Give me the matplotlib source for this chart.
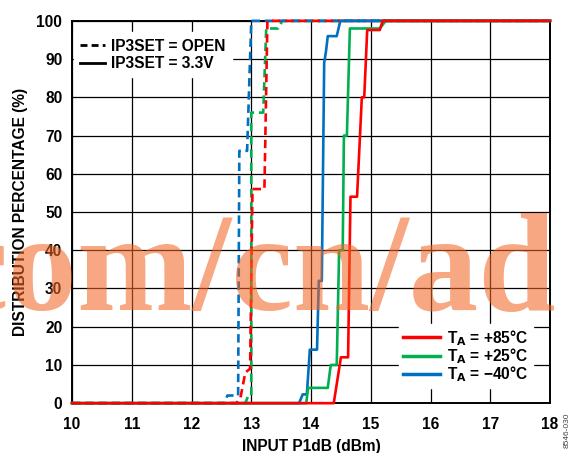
import matplotlib
matplotlib.use("Agg")
import matplotlib.pyplot as plt
from matplotlib.lines import Line2D

plt.rcParams['font.family'] = ['Liberation Sans', 'DejaVu Sans']
plt.rcParams['font.weight'] = 'bold'
plt.rcParams['mathtext.default'] = 'bf'

# IP3SET = OPEN (dashed)
open_m40_x = [10.0, 12.55, 12.6, 12.78, 12.8, 12.93, 13.0, 18.0]
open_m40_y = [0, 0, 2, 2, 66, 66, 100, 100]
open_p25_x = [10.0, 12.9, 12.95, 13.0, 13.0, 13.2, 13.25, 13.45, 13.52, 18.0]
open_p25_y = [0, 0, 2, 2, 76, 76, 98, 98, 100, 100]
open_p85_x = [10.0, 12.75, 12.82, 12.9, 12.98, 13.02, 13.22, 13.27, 18.0]
open_p85_y = [0, 0, 1.5, 8, 9, 56, 56, 100, 100]

# IP3SET = 3.3V (solid)
v33_m40_x = [10.0, 13.8, 13.86, 13.93, 13.98, 14.1, 14.13, 14.18, 14.22, 14.25, 14.28, 14.33, 14.43, 14.49, 18.0]
v33_m40_y = [0, 0, 2.3, 2.3, 14, 14, 32, 32, 89, 92, 96, 96, 96, 100, 100]
v33_p25_x = [10.0, 13.92, 13.95, 14.28, 14.33, 14.43, 14.47, 14.53, 14.55, 14.6, 14.65, 15.15, 15.25, 18.0]
v33_p25_y = [0, 0, 4, 4, 10, 10, 40, 40, 70, 70, 98, 98, 100, 100]
v33_p85_x = [10.0, 14.38, 14.45, 14.5, 14.62, 14.66, 14.77, 14.85, 14.89, 14.94, 15.15, 15.2, 18.0]
v33_p85_y = [0, 0, 7, 12, 12, 54, 54, 80, 80, 97.6, 97.6, 100, 100]

temp_labels = ['T$_{A}$ = +85°C', 'T$_{A}$ = +25°C', 'T$_{A}$ = \u221240°C']
red = '#ff0000'
green = '#00b050'
blue = '#0070c0'
fs = 11.2

fig = plt.figure(figsize=(5.76, 4.53), dpi=100)
ax = fig.add_axes([0.125, 0.110, 0.830, 0.844])

dash = (0, (3.2, 1.8))
lw = 1.9
ax.plot(open_p25_x, open_p25_y, color=green, lw=lw, linestyle=dash, zorder=3, clip_on=False)
ax.plot(open_m40_x, open_m40_y, color=blue, lw=lw, linestyle=dash, zorder=3, clip_on=False)
ax.plot(open_p85_x, open_p85_y, color=red, lw=lw, linestyle=dash, zorder=3, clip_on=False)
ax.plot(v33_m40_x, v33_m40_y, color=blue, lw=lw, zorder=3, clip_on=False)
ax.plot(v33_p25_x, v33_p25_y, color=green, lw=lw, zorder=3, clip_on=False)
ax.plot(v33_p85_x, v33_p85_y, color=red, lw=lw, zorder=3, clip_on=False)

ax.set_xlim(10, 18)
ax.set_ylim(0, 100)
ax.set_xticks(range(10, 19))
ax.set_yticks(range(0, 101, 10))
ax.grid(True, color='black', lw=0.9)
ax.set_axisbelow(True)
ax.tick_params(length=0, labelsize=fs)
ax.tick_params(axis='x', pad=10)
ax.tick_params(axis='y', pad=7)
for lab in ax.get_xticklabels() + ax.get_yticklabels():
    lab.set_fontweight('bold')
for s in ax.spines.values():
    s.set_linewidth(1.4)

ax.set_xlabel('INPUT P1dB (dBm)', fontsize=fs, fontweight='bold', labelpad=5)
ax.set_ylabel('DISTRIBUTION PERCENTAGE (%)', fontsize=fs, fontweight='bold', labelpad=6)

h1 = [Line2D([], [], color='black', lw=2, linestyle=(0, (2.5, 1.5))),
      Line2D([], [], color='black', lw=2)]
leg1 = ax.legend(h1, ['IP3SET = OPEN', 'IP3SET = 3.3V'], loc='upper left',
                 bbox_to_anchor=(-0.012, 0.99), frameon=True, fancybox=False,
                 edgecolor='white', framealpha=1, fontsize=fs, handlelength=1.6,
                 handletextpad=0.4, labelspacing=0.15, borderpad=0.4)
for t in leg1.get_texts():
    t.set_fontweight('bold')
leg1.set_zorder(5)
ax.add_artist(leg1)

h2 = [Line2D([], [], color=c, lw=2.5) for c in (red, green, blue)]
leg2 = ax.legend(h2, temp_labels, loc='lower right', bbox_to_anchor=(0.98, 0.02),
                 frameon=True, fancybox=False, edgecolor='white', framealpha=1,
                 fontsize=fs, handlelength=2.4, handletextpad=0.45,
                 labelspacing=-0.1, borderpad=0.25)
for t in leg2.get_texts():
    t.set_fontweight('bold')
leg2.set_zorder(5)

fig.text(0.985, 0.05, '8546-030', rotation=90, fontsize=6, fontweight='normal',
         color='#444444', ha='center', va='center')

# watermark overlay
fig.text(0.436, 0.316, 'com/cn/ad', fontsize=100, family='Liberation Serif',
         fontweight='bold', color='#f26522', alpha=0.57, ha='center', va='baseline',
         zorder=10)

fig.savefig('out.png', dpi=100)
